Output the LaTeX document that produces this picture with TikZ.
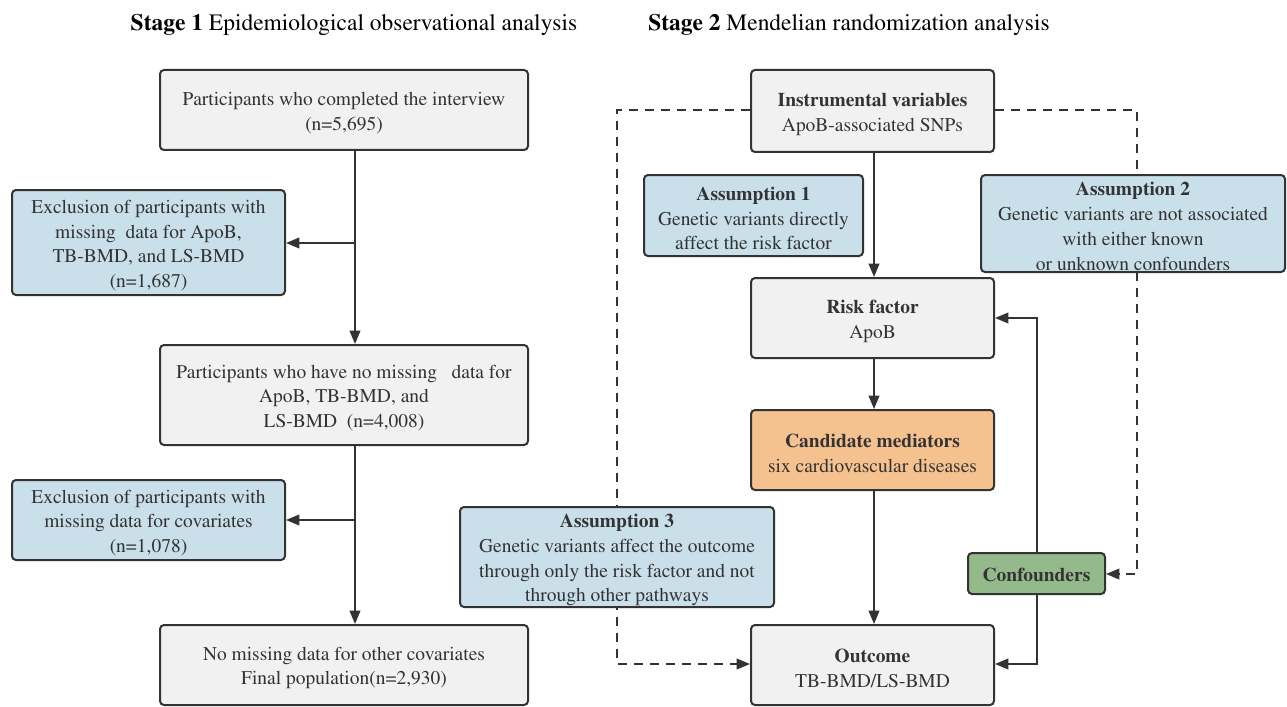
\documentclass[tikz,border=0pt]{standalone}
\usepackage[T1]{fontenc}
\usepackage{mathptmx}
\usetikzlibrary{arrows.meta}
\definecolor{grayfill}{HTML}{F1F1F1}
\definecolor{bluefill}{HTML}{C9DFEA}
\definecolor{orangefill}{HTML}{F5C18F}
\definecolor{greenfill}{HTML}{94B98B}
\definecolor{edge}{HTML}{333333}
\definecolor{txt}{HTML}{333333}
\tikzset{
  box/.style={draw=edge, line width=1.5pt, rounded corners=3pt, inner sep=0pt},
  graybox/.style={box, fill=grayfill},
  bluebox/.style={box, fill=bluefill},
  orangebox/.style={box, fill=orangefill},
  greenbox/.style={box, fill=greenfill},
  boxtext/.style={align=center, text=txt, font=\fontsize{14.6}{18.6}\selectfont,
    inner sep=0pt, yshift=-2.3pt},
  sz/.style 2 args={minimum width={#1*0.75pt}, minimum height={#2*0.75pt}},
  conn/.style={draw=edge, line width=1.3pt, -{Triangle[length=10pt,width=8pt]}},
  dconn/.style={draw=edge, line width=1.3pt, dash pattern=on 7pt off 5pt, -{Triangle[length=10pt,width=8pt]}},
  title/.style={font=\fontsize{17.6}{20}\selectfont, text=black, inner sep=0pt}
}
\begin{document}
\begin{tikzpicture}[x=0.75pt,y=-0.75pt]
\useasboundingbox (0,0) rectangle (1287,706);
% titles
\node[title] (t1) at (354,25) {\textbf{Stage 1} Epidemiological observational analysis};
\node[title] (t2) at (849,25) {\textbf{Stage 2} Mendelian randomization analysis};
% route coordinates
\coordinate (dl1) at (617,110);
\coordinate (dl2) at (617,664);
\coordinate (dr1) at (1137,110);
\coordinate (dr2) at (1137,574);
\coordinate (cf1) at (1037,318);
\coordinate (cf2) at (1037,664);
% boxes that dashed / bent connectors run to
\node[graybox, sz={243}{82}] (iv) at (872.5,111) {};
\node[graybox, sz={243}{80}] (out) at (872.5,665) {};
\node[greenbox, sz={137}{41}] (conf) at (1036.5,573.5) {};
\node[graybox, sz={243}{80}] (rf) at (872.5,318) {};
\node[boxtext] (ivt) at (iv.center) {\textbf{Instrumental variables}\\ApoB-associated SNPs};
\node[boxtext] (outt) at (out.center) {\textbf{Outcome}\\TB-BMD/LS-BMD};
\node[boxtext, yshift=1.5pt] (conft) at (conf.center) {\textbf{Confounders}};
\node[boxtext] (rft) at (rf.center) {\textbf{Risk factor}\\ApoB};
\draw[dconn] (iv.west |- dl1) -- (dl1) -- (dl2) -- (out.west |- dl2);
\draw[dconn] (iv.east |- dr1) -- (dr1) -- (dr2) -- (conf.east |- dr2);
\draw[conn] (conf.north -| cf1) -- (cf1) -- (rf.east |- cf1);
\draw[conn] (conf.south -| cf2) -- (cf2) -- (out.east |- cf2);
% left column
\node[graybox, sz={368}{80}] (b1) at (344,110) {};
\node[boxtext] (b1t) at (b1.center) {Participants who completed the interview\\(n=5,695)};
\node[bluebox, sz={273}{105}] (e1) at (148.5,242.5) {};
\node[boxtext] (e1t) at (e1.center) {Exclusion of participants with\\missing\ \ data for ApoB,\\TB-BMD, and LS-BMD\\(n=1,687)};
\node[graybox, sz={368}{100}] (b2) at (344,395) {};
\node[boxtext] (b2t) at (b2.center) {Participants who have no missing\ \ \ data for\\ApoB, TB-BMD, and\\LS-BMD\ \ (n=4,008)};
\node[bluebox, sz={273}{80}] (e2) at (148.5,520) {};
\node[boxtext] (e2t) at (e2.center) {Exclusion of participants with\\missing data for covariates\\(n=1,078)};
\node[graybox, sz={368}{80}] (b3) at (344,665) {};
\node[boxtext] (b3t) at (b3.center) {No missing data for other covariates\\Final population(n=2,930)};
\coordinate (j1) at (355,243);
\coordinate (j2) at (355,520);
\draw[conn] (b1.south -| j1) -- (b2.north -| j1);
\draw[conn] (j1) -- (e1.east |- j1);
\draw[conn] (b2.south -| j2) -- (b3.north -| j2);
\draw[conn] (j2) -- (e2.east |- j2);
% right column
\node[bluebox, sz={219}{81}] (a1) at (753.5,215.5) {};
\node[boxtext] (a1t) at (a1.center) {\textbf{Assumption 1}\\Genetic variants directly\\affect the risk factor};
\node[bluebox, sz={304}{97}] (a2) at (1133,223.5) {};
\node[boxtext] (a2t) at (a2.center) {\textbf{Assumption 2}\\Genetic variants are not associated\\with either known\\or unknown confounders};
\node[orangebox, sz={243}{80}] (cm) at (872.5,450) {};
\node[boxtext] (cmt) at (cm.center) {\textbf{Candidate mediators}\\six cardiovascular diseases};
\node[bluebox, sz={314}{100}] (a3) at (617,557) {};
\node[boxtext] (a3t) at (a3.center) {\textbf{Assumption 3}\\Genetic variants affect the outcome\\through only the risk factor and not\\through other pathways};
\coordinate (rc) at (874,0);
\draw[conn] (iv.south -| rc) -- (rf.north -| rc);
\draw[conn] (rf.south -| rc) -- (cm.north -| rc);
\draw[conn] (cm.south -| rc) -- (out.north -| rc);
\end{tikzpicture}
\end{document}
